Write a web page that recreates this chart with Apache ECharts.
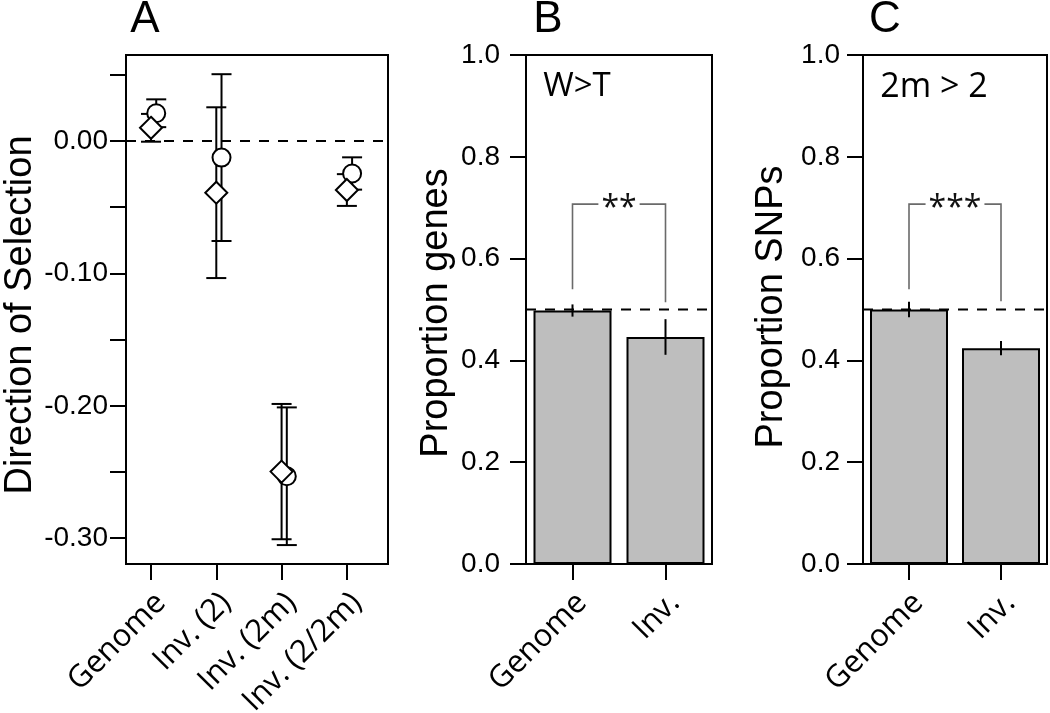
<!DOCTYPE html>
<html><head><meta charset="utf-8">
<script src="https://cdn.jsdelivr.net/npm/echarts@6/dist/echarts.min.js"></script>
<style>html,body{margin:0;padding:0;background:#fff}#c{width:1050px;height:713px}</style>
</head><body><div id="c"></div>
<script>
// ---------- Panel A data ----------
const categoriesA = ['Genome', 'Inv. (2)', 'Inv. (2m)', 'Inv. (2/2m)'];
const diamondMean = [0.010, -0.039, -0.2497, -0.037];
const diamondErr  = [0.0105, 0.0645, 0.0511, 0.012];
const circleMean  = [0.021, -0.0125, -0.2532, -0.0245];
const circleErr   = [0.0105, 0.063, 0.052, 0.0122];
const yTicksA  = [0.05, 0, -0.05, -0.10, -0.15, -0.20, -0.25, -0.30];
const yLabelsA = [0, -0.10, -0.20, -0.30];
const zeroLine = 0;

// ---------- Panels B & C data ----------
const categoriesBC = ['Genome', 'Inv.'];
const propGenes    = [0.498, 0.446];
const propGenesErr = [0.012, 0.035];
const propSNPs     = [0.500, 0.424];
const propSNPsErr  = [0.015, 0.014];
const bracketB = [0.54, 0.707, 0.514];   // left foot, top, right foot
const bracketC = [0.54, 0.707, 0.516];
const sigB = '**', sigC = '***';
const refLine = 0.5;
const yTicksBC = [0, 0.2, 0.4, 0.6, 0.8, 1.0];

const SANS = 'Liberation Sans, Arial, sans-serif';
const OPEN = 'Open Sans, sans-serif';
const CIRCLE_SHIFT = 0.08;

const chart = echarts.init(document.getElementById('c'));

function errCapRender(params, api) {
  const x = api.value(0);
  const lo = api.coord([x, api.value(1)]);
  const hi = api.coord([x, api.value(2)]);
  const st = {stroke: '#000', lineWidth: 2};
  const w = 10;
  return {type: 'group', children: [
    {type: 'line', shape: {x1: lo[0], y1: lo[1], x2: hi[0], y2: hi[1]}, style: st},
    {type: 'line', shape: {x1: lo[0] - w, y1: lo[1], x2: lo[0] + w, y2: lo[1]}, style: st},
    {type: 'line', shape: {x1: hi[0] - w, y1: hi[1], x2: hi[0] + w, y2: hi[1]}, style: st}
  ]};
}
function errLineRender(params, api) {
  const x = api.value(0);
  const lo = api.coord([x, api.value(1)]);
  const hi = api.coord([x, api.value(2)]);
  return {type: 'line', shape: {x1: lo[0], y1: lo[1], x2: hi[0], y2: hi[1]}, style: {stroke: '#000', lineWidth: 2}};
}
function bracketRender(br, sig) {
  return function (params, api) {
    const a = api.coord([1, br[0]]), b = api.coord([1, br[1]]);
    const c = api.coord([2, br[1]]), d = api.coord([2, br[2]]);
    return {type: 'group', children: [
      {type: 'polyline', shape: {points: [a, b, c, d]}, style: {stroke: '#6a6a6a', lineWidth: 1.6, fill: null}},
      {type: 'text', x: (b[0] + c[0]) / 2, y: b[1] + 5, z2: 10,
       style: {text: sig, font: '32px ' + OPEN, fill: '#111', align: 'center', verticalAlign: 'middle',
               backgroundColor: '#fff', padding: [0, 3]}}
    ]};
  };
}
function hLineRender(params, api) {
  const y = api.value(1);
  const cs = params.coordSys;
  const p = api.coord([api.value(0), y]);
  return {type: 'line', shape: {x1: cs.x, y1: p[1], x2: cs.x + cs.width, y2: p[1]},
          style: {stroke: '#000', lineWidth: 2, lineDash: [10, 9]}};
}

const gridBase = {show: true, borderColor: '#000', borderWidth: 2, backgroundColor: 'transparent',
                  containLabel: false, outerBoundsMode: 'none'};
const grids = [
  Object.assign({left: 126, top: 55, width: 262, height: 509}, gridBase),
  Object.assign({left: 526, top: 55, width: 186, height: 509}, gridBase),
  Object.assign({left: 863, top: 55, width: 184, height: 509}, gridBase)
];

const xLabelCommon = {rotate: 45, margin: 34, color: '#000', fontFamily: OPEN, fontSize: 31};
const tickStyle = {show: true, length: 16, lineStyle: {color: '#000', width: 2}};
const noLine = {show: false, onZero: false};

const xAxes = [
  {gridIndex: 0, type: 'value', position: 'bottom', min: 0.617, max: 4.63, axisLine: noLine, splitLine: {show: false},
   axisTick: Object.assign({customValues: [1, 2, 3, 4]}, tickStyle),
   axisLabel: Object.assign({customValues: [1.15, 2.15, 3.15, 4.15], formatter: v => categoriesA[Math.round(v) - 1]}, xLabelCommon)},
  {gridIndex: 1, type: 'value', position: 'bottom', min: 0.5, max: 2.5, axisLine: noLine, splitLine: {show: false},
   axisTick: Object.assign({customValues: [1, 2]}, tickStyle),
   axisLabel: Object.assign({customValues: [1.1, 2.1], formatter: v => categoriesBC[Math.round(v) - 1]}, xLabelCommon)},
  {gridIndex: 2, type: 'value', position: 'bottom', min: 0.5, max: 2.5, axisLine: noLine, splitLine: {show: false},
   axisTick: Object.assign({customValues: [1, 2]}, tickStyle),
   axisLabel: Object.assign({customValues: [1.1, 2.1], formatter: v => categoriesBC[Math.round(v) - 1]}, xLabelCommon)}
];

const yLabelCommon = {color: '#000', fontFamily: SANS, fontSize: 28};
const yAxes = [
  {gridIndex: 0, type: 'value', min: -0.3195, max: 0.065, axisLine: noLine, splitLine: {show: false},
   axisTick: Object.assign({customValues: yTicksA}, tickStyle),
   axisLabel: Object.assign({customValues: yLabelsA, margin: 18, formatter: v => v.toFixed(2)}, yLabelCommon)},
  {gridIndex: 1, type: 'value', min: 0, max: 1, axisLine: noLine, splitLine: {show: false},
   axisTick: Object.assign({customValues: yTicksBC}, tickStyle),
   axisLabel: Object.assign({customValues: yTicksBC, margin: 26, formatter: v => v.toFixed(1)}, yLabelCommon)},
  {gridIndex: 2, type: 'value', min: 0, max: 1, axisLine: noLine, splitLine: {show: false},
   axisTick: Object.assign({customValues: yTicksBC}, tickStyle),
   axisLabel: Object.assign({customValues: yTicksBC, margin: 23, formatter: v => v.toFixed(1)}, yLabelCommon)}
];

const markerStyle = {color: '#fff', borderColor: '#000', borderWidth: 2, opacity: 1};

const series = [
  // Panel A
  {type: 'custom', xAxisIndex: 0, yAxisIndex: 0, z: 1, renderItem: hLineRender, data: [[1, zeroLine]]},
  {type: 'custom', xAxisIndex: 0, yAxisIndex: 0, z: 2, renderItem: errCapRender,
   data: circleMean.map((m, i) => [i + 1 + CIRCLE_SHIFT, m - circleErr[i], m + circleErr[i]])},
  {type: 'custom', xAxisIndex: 0, yAxisIndex: 0, z: 2, renderItem: errCapRender,
   data: diamondMean.map((m, i) => [i + 1, m - diamondErr[i], m + diamondErr[i]])},
  {type: 'scatter', xAxisIndex: 0, yAxisIndex: 0, z: 3, symbol: 'circle', symbolSize: 18, itemStyle: markerStyle,
   data: circleMean.map((m, i) => [i + 1 + CIRCLE_SHIFT, m])},
  {type: 'scatter', xAxisIndex: 0, yAxisIndex: 0, z: 4, symbol: 'diamond', symbolSize: [22, 22], itemStyle: markerStyle,
   data: diamondMean.map((m, i) => [i + 1, m])},
  // Panel B
  {type: 'bar', xAxisIndex: 1, yAxisIndex: 1, barWidth: 78, z: 2,
   itemStyle: {color: '#bebebe', borderColor: '#000', borderWidth: 2},
   data: propGenes.map((v, i) => [i + 1, v])},
  {type: 'custom', xAxisIndex: 1, yAxisIndex: 1, z: 5, renderItem: hLineRender, data: [[1, refLine]]},
  {type: 'custom', xAxisIndex: 1, yAxisIndex: 1, z: 4, renderItem: errLineRender,
   data: propGenes.map((v, i) => [i + 1, v - propGenesErr[i], v + propGenesErr[i]])},
  {type: 'custom', xAxisIndex: 1, yAxisIndex: 1, z: 4, renderItem: bracketRender(bracketB, sigB), data: [[1, 0, 0]]},
  // Panel C
  {type: 'bar', xAxisIndex: 2, yAxisIndex: 2, barWidth: 78, z: 2,
   itemStyle: {color: '#bebebe', borderColor: '#000', borderWidth: 2},
   data: propSNPs.map((v, i) => [i + 1, v])},
  {type: 'custom', xAxisIndex: 2, yAxisIndex: 2, z: 5, renderItem: hLineRender, data: [[1, refLine]]},
  {type: 'custom', xAxisIndex: 2, yAxisIndex: 2, z: 4, renderItem: errLineRender,
   data: propSNPs.map((v, i) => [i + 1, v - propSNPsErr[i], v + propSNPsErr[i]])},
  {type: 'custom', xAxisIndex: 2, yAxisIndex: 2, z: 4, renderItem: bracketRender(bracketC, sigC), data: [[1, 0, 0]]}
];

const titleText = (t, x, y, rot, size, fam) => ({type: 'text', x: x, y: y, rotation: rot || 0,
  style: {text: t, font: size + 'px ' + fam, fill: '#000', align: 'center', verticalAlign: 'middle'}});

chart.setOption({
  animation: false,
  backgroundColor: '#fff',
  grid: grids,
  xAxis: xAxes,
  yAxis: yAxes,
  series: series,
  graphic: [
    titleText('A', 145, 20, 0, 44, SANS),
    titleText('B', 548, 20, 0, 44, SANS),
    titleText('C', 885, 20, 0, 44, SANS),
    titleText('Direction of Selection', 21, 315, Math.PI / 2, 38, SANS),
    titleText('Proportion genes', 437, 313, Math.PI / 2, 38, SANS),
    titleText('Proportion SNPs', 772, 307, Math.PI / 2, 38, SANS),
    titleText('W>T', 577, 87, 0, 33, OPEN),
    titleText('2m > 2', 934, 87, 0, 34, OPEN)
  ]
});
</script></body></html>
